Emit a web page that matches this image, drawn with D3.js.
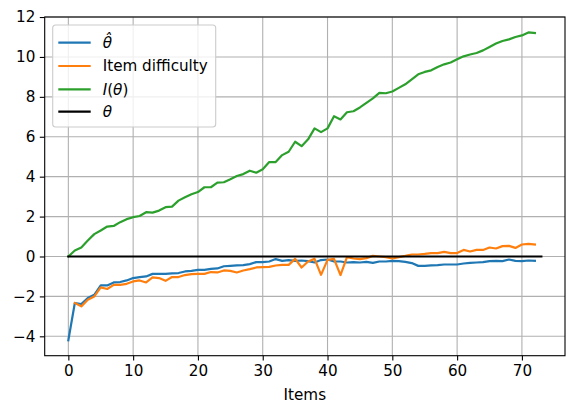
<!DOCTYPE html>
<html>
<head>
<meta charset="utf-8">
<script src="https://cdn.jsdelivr.net/npm/d3@7"></script>
<style>
  body { margin: 0; background: #fff; }
  svg { font-family: "DejaVu Sans", sans-serif; }
</style>
</head>
<body>
<div id="chart"></div>
<script>
// theta hat, item 0..72
let thetaHat = [-4.2, -2.33, -2.38, -2.08, -1.92, -1.45, -1.45, -1.3, -1.28, -1.2,
    -1.08, -1.03, -1.0, -0.87, -0.87, -0.87, -0.85, -0.83, -0.75, -0.72,
    -0.67, -0.67, -0.62, -0.6, -0.49, -0.47, -0.45, -0.43, -0.38, -0.28,
    -0.28, -0.25, -0.13, -0.22, -0.18, -0.22, -0.2, -0.23, -0.3, -0.18,
    -0.15, -0.25, -0.25, -0.3, -0.28, -0.3, -0.27, -0.32, -0.25, -0.25,
    -0.22, -0.23, -0.27, -0.33, -0.47, -0.47, -0.45, -0.43, -0.4, -0.4,
    -0.4, -0.35, -0.32, -0.3, -0.28, -0.23, -0.22, -0.23, -0.15, -0.22,
    -0.23, -0.2, -0.22]
// item difficulty, item 1..72
let difficulty = [-2.33, -2.5, -2.17, -2.0, -1.55, -1.63, -1.42, -1.42, -1.37,
    -1.25, -1.2, -1.3, -1.05, -1.08, -1.22, -1.03, -1.03, -0.93, -0.88,
    -0.87, -0.87, -0.78, -0.8, -0.7, -0.72, -0.8, -0.7, -0.63, -0.55,
    -0.53, -0.52, -0.45, -0.42, -0.42, -0.12, -0.55, -0.25, -0.12, -0.92,
    -0.17, -0.12, -0.93, -0.03, -0.1, -0.13, -0.08, 0.03, 0.0, -0.03,
    -0.1, -0.03, 0.03, 0.1, 0.1, 0.13, 0.17, 0.17, 0.23, 0.17,
    0.17, 0.33, 0.25, 0.33, 0.33, 0.45, 0.4, 0.52, 0.53, 0.43,
    0.6, 0.63, 0.6]
// information I(theta), item 0..72
let information = [0, 0.3, 0.45, 0.8, 1.12, 1.3, 1.5, 1.53, 1.72, 1.87,
    1.97, 2.03, 2.22, 2.2, 2.3, 2.47, 2.5, 2.8, 2.97, 3.12,
    3.23, 3.47, 3.47, 3.7, 3.72, 3.87, 4.03, 4.13, 4.3, 4.2,
    4.37, 4.73, 4.73, 5.08, 5.25, 5.75, 5.53, 5.87, 6.42, 6.23,
    6.42, 7.03, 6.87, 7.23, 7.28, 7.47, 7.7, 7.92, 8.2, 8.18,
    8.27, 8.45, 8.63, 8.88, 9.13, 9.25, 9.33, 9.5, 9.63, 9.72,
    9.88, 10.03, 10.12, 10.2, 10.33, 10.5, 10.67, 10.8, 10.88, 11.0,
    11.08, 11.23, 11.2]
// true theta (flat)
let thetaItems = [0, 73]
let thetaTrue = [0, 0]

let xTicks = [0, 10, 20, 30, 40, 50, 60, 70]
let yTicks = [-4, -2, 0, 2, 4, 6, 8, 10, 12]

let series = [
    {name: 'hat', color: '#1f77b4', pts: thetaHat.map((v, i) => [i, v])},
    {name: 'diff', color: '#ff7f0e', pts: difficulty.map((v, i) => [i + 1, v])},
    {name: 'info', color: '#2ca02c', pts: information.map((v, i) => [i, v])},
    {name: 'theta', color: '#000000', pts: thetaItems.map((d, i) => [d, thetaTrue[i]])}
]

function draw_chart() {
    let svgWidth = 582
    let svgHeight = 414
    let padding = {left: 44.7, right: 17, top: 17, bottom: 58.3}
    let fontSize = 15.2

    let svg = d3.select('#chart').append('svg')
        .attr('width', svgWidth)
        .attr('height', svgHeight)

    // limits with matplotlib-like 5% margins
    let allPts = series.flatMap(s => s.pts)
    let xr = d3.extent(allPts, d => d[0])
    let yr = d3.extent(allPts, d => d[1])
    let xm = (xr[1] - xr[0]) * 0.05
    let ym = (yr[1] - yr[0]) * 0.05

    let x = d3.scaleLinear()
        .domain([xr[0] - xm, xr[1] + xm])
        .range([padding.left, svgWidth - padding.right])
    let y = d3.scaleLinear()
        .domain([yr[0] - ym, yr[1] + ym])
        .range([svgHeight - padding.bottom, padding.top])

    // grid
    let grid = svg.append('g')
    grid.selectAll('.gx').data(xTicks).enter().append('line')
        .attr('x1', d => x(d)).attr('x2', d => x(d))
        .attr('y1', padding.top).attr('y2', svgHeight - padding.bottom)
        .attr('stroke', '#b0b0b0').attr('stroke-width', 1.1)
    grid.selectAll('.gy').data(yTicks).enter().append('line')
        .attr('x1', padding.left).attr('x2', svgWidth - padding.right)
        .attr('y1', d => y(d)).attr('y2', d => y(d))
        .attr('stroke', '#b0b0b0').attr('stroke-width', 1.1)

    // lines
    let line = d3.line().x(d => x(d[0])).y(d => y(d[1]))
    series.forEach(s => {
        svg.append('path')
            .attr('d', line(s.pts))
            .attr('fill', 'none')
            .attr('stroke', s.color)
            .attr('stroke-width', 2.2)
            .attr('stroke-linejoin', 'round')
            .attr('stroke-linecap', 'square')
    })

    // axes
    let fmt = d => d < 0 ? '\u2212' + Math.abs(d) : '' + d
    let axX = svg.append('g')
        .attr('transform', `translate(0, ${svgHeight - padding.bottom})`)
        .call(d3.axisBottom(x).tickValues(xTicks).tickFormat(fmt).tickSizeOuter(0).tickSize(4.9).tickPadding(4.5))
    let axY = svg.append('g')
        .attr('transform', `translate(${padding.left}, 0)`)
        .call(d3.axisLeft(y).tickValues(yTicks).tickFormat(fmt).tickSizeOuter(0).tickSize(4.9).tickPadding(4.5))
    ;[axX, axY].forEach(a => {
        a.select('.domain').remove()
        a.selectAll('line').attr('stroke', '#000').attr('stroke-width', 1.1)
        a.selectAll('text').attr('font-family', 'DejaVu Sans').attr('font-size', fontSize).attr('fill', '#000')
    })

    // frame
    svg.append('rect')
        .attr('x', padding.left).attr('y', padding.top)
        .attr('width', svgWidth - padding.left - padding.right)
        .attr('height', svgHeight - padding.top - padding.bottom)
        .attr('fill', 'none').attr('stroke', '#000').attr('stroke-width', 1.1)

    svg.append('text')
        .attr('x', (padding.left + svgWidth - padding.right) / 2)
        .attr('y', 400)
        .attr('text-anchor', 'middle')
        .attr('font-size', fontSize)
        .text('Items')

    // legend
    let lg = svg.append('g').attr('transform', `translate(${padding.left + 8}, ${padding.top + 8})`)
    lg.append('rect')
        .attr('x', 0).attr('y', 0).attr('width', 163).attr('height', 102)
        .attr('rx', 3)
        .attr('fill', '#fff').attr('fill-opacity', 0.8)
        .attr('stroke', '#cccccc').attr('stroke-width', 1.1)
    let rowY = [17.7, 41, 64.3, 86.7]
    series.forEach((s, i) => {
        lg.append('line')
            .attr('x1', 5.6).attr('x2', 38)
            .attr('y1', rowY[i]).attr('y2', rowY[i])
            .attr('stroke', s.color).attr('stroke-width', 2.2)
        let t = lg.append('text')
            .attr('x', 50).attr('y', rowY[i])
            .attr('dy', '0.36em')
            .attr('font-size', fontSize)
        if (s.name == 'hat') {
            t.append('tspan').attr('font-style', 'italic').text('\u03b8\u0302')
        } else if (s.name == 'diff') {
            t.text('Item difficulty')
        } else if (s.name == 'info') {
            t.append('tspan').attr('font-style', 'italic').text('I')
            t.append('tspan').text('(')
            t.append('tspan').attr('font-style', 'italic').text('\u03b8')
            t.append('tspan').text(')')
        } else {
            t.append('tspan').attr('font-style', 'italic').text('\u03b8')
        }
    })
}

draw_chart()
</script>
</body>
</html>
